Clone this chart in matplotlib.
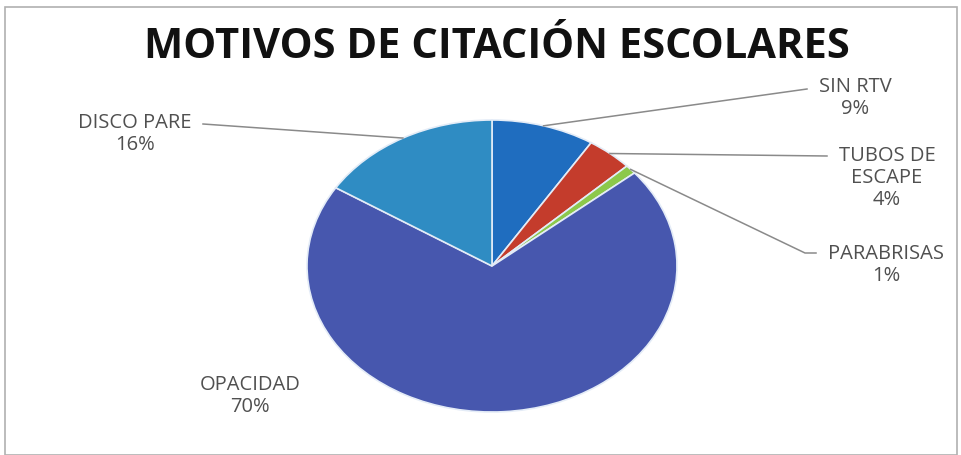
import numpy as np
import matplotlib
matplotlib.use("Agg")
import matplotlib.pyplot as plt
from matplotlib.patches import Rectangle

title = "MOTIVOS DE CITACIÓN ESCOLARES"
categories = ["SIN RTV", "TUBOS DE\nESCAPE", "PARABRISAS", "OPACIDAD", "DISCO PARE"]
values = [9, 4, 1, 70, 16]
colors = ["#1f6dbf", "#c43c2c", "#8cc84b", "#4757ae", "#2f8cc3"]

W, H = 962, 455
fig = plt.figure(figsize=(W / 100, H / 100), dpi=100)
plt.rcParams['font.family'] = ['Open Sans', 'DejaVu Sans']

# pie bounding box in pixel coords (top-left origin)
left, right, top, bottom = 307, 677, 120, 412
ax = fig.add_axes([left / W, (H - bottom) / H, (right - left) / W, (bottom - top) / H])
wedges, _ = ax.pie(values, colors=colors, startangle=90, counterclock=False,
                   radius=1.0, wedgeprops=dict(edgecolor="#e4ecf7", linewidth=1.2))
ax.set_aspect('auto')
ax.set_xlim(-1, 1)
ax.set_ylim(-1, 1)
ax.axis('off')

def px_to_data(x, y):
    disp = fig.transFigure.transform((x / W, (H - y) / H))
    return ax.transData.inverted().transform(disp)

# label layout: (elbow points in pixels, text position in pixels, ha)
layout = [
    ([(807, 89)], (855, 98), 'center'),
    ([(827, 156)], (887, 178), 'center'),
    ([(805, 253), (816, 253)], (886, 265), 'center'),
    (None, (250, 396), 'center'),
    ([(203, 124)], (135, 134), 'center'),
]

for w, cat, val, (elbows, (tx, ty), ha) in zip(wedges, categories, values, layout):
    mid = np.deg2rad((w.theta1 + w.theta2) / 2)
    x0, y0 = w.r * np.cos(mid), w.r * np.sin(mid)
    if elbows:
        pts = [(x0, y0)] + [tuple(px_to_data(*p)) for p in elbows]
        xs, ys = zip(*pts)
        ax.plot(xs, ys, color="#8a8a8a", lw=1.1, clip_on=False, zorder=5)
    fig.text(tx / W, (H - ty) / H, f"{cat}\n{val}%", ha=ha, va='center',
             fontsize=14.5, color="#505050", linespacing=1.12)

fig.text(497 / W, (H - 48) / H, title, ha='center', va='center',
         fontsize=30, fontweight='bold', color="#111111")

# chart border
fig.patches.append(Rectangle((5 / W, 0), 952 / W, (H - 7) / H, transform=fig.transFigure,
                             fill=False, edgecolor="#b0b0b0", lw=1.2))

fig.savefig("out.png", dpi=100)
